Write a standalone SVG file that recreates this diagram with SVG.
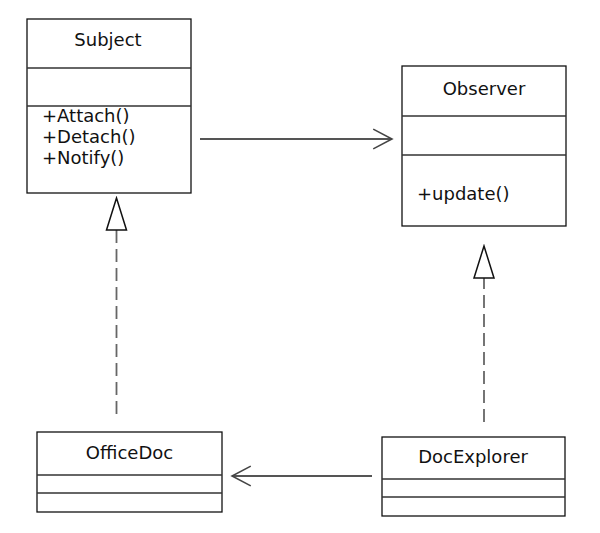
<svg xmlns="http://www.w3.org/2000/svg" width="600" height="533" viewBox="0 0 600 533">
<style>
.box{fill:#fff;stroke:#111;stroke-width:1.3}
.div{stroke:#333;stroke-width:1.3}
text{font-family:"DejaVu Sans",sans-serif;font-size:18px;fill:#111}
.c{text-anchor:middle}
.assoc{stroke:#555;stroke-width:1.8;fill:none}
.real{stroke:#666;stroke-width:1.8;fill:none;stroke-dasharray:13 6}
</style>
<defs>
<marker id="open" markerUnits="userSpaceOnUse" markerWidth="24" markerHeight="24" viewBox="-2 -2 22 23" refX="18" refY="9.5" orient="auto">
<path d="M0,0 L18,9.5 L0,19" fill="none" stroke="#444" stroke-width="1.5" stroke-dasharray="none"/>
</marker>
<marker id="tri" markerUnits="userSpaceOnUse" markerWidth="36" markerHeight="26" viewBox="-2 -2 36 24" refX="0" refY="10" orient="auto">
<path d="M0,0 L32,10 L0,20 Z" fill="#fff" stroke="#111" stroke-width="1.5" stroke-dasharray="none"/>
</marker>
</defs>
<rect width="600" height="533" fill="#fff"/>
<g id="connectors">
<line class="assoc" x1="200" y1="139" x2="392" y2="139" marker-end="url(#open)"/>
<line class="assoc" x1="372" y1="476" x2="232" y2="476" marker-end="url(#open)"/>
<line class="real" x1="116.5" y1="414" x2="116.5" y2="230" marker-end="url(#tri)"/>
<line class="real" x1="484" y1="422" x2="484" y2="278" marker-end="url(#tri)"/>
</g>
<g id="Subject">
<rect class="box" x="27" y="19" width="164" height="174"/>
<line class="div" x1="27" y1="68" x2="191" y2="68"/>
<line class="div" x1="27" y1="106" x2="191" y2="106"/>
<text class="c" x="108" y="46">Subject</text>
<text x="42" y="122">+Attach()</text>
<text x="42" y="143">+Detach()</text>
<text x="42" y="164">+Notify()</text>
</g>
<g id="Observer">
<rect class="box" x="402" y="66" width="164" height="160"/>
<line class="div" x1="402" y1="116" x2="566" y2="116"/>
<line class="div" x1="402" y1="155" x2="566" y2="155"/>
<text class="c" x="484" y="95">Observer</text>
<text x="417" y="200">+update()</text>
</g>
<g id="OfficeDoc">
<rect class="box" x="37" y="432" width="185" height="80"/>
<line class="div" x1="37" y1="475" x2="222" y2="475"/>
<line class="div" x1="37" y1="493" x2="222" y2="493"/>
<text class="c" x="129.5" y="459">OfficeDoc</text>
</g>
<g id="DocExplorer">
<rect class="box" x="382" y="437" width="183" height="79"/>
<line class="div" x1="382" y1="479" x2="565" y2="479"/>
<line class="div" x1="382" y1="497" x2="565" y2="497"/>
<text class="c" x="473" y="463">DocExplorer</text>
</g>
</svg>
